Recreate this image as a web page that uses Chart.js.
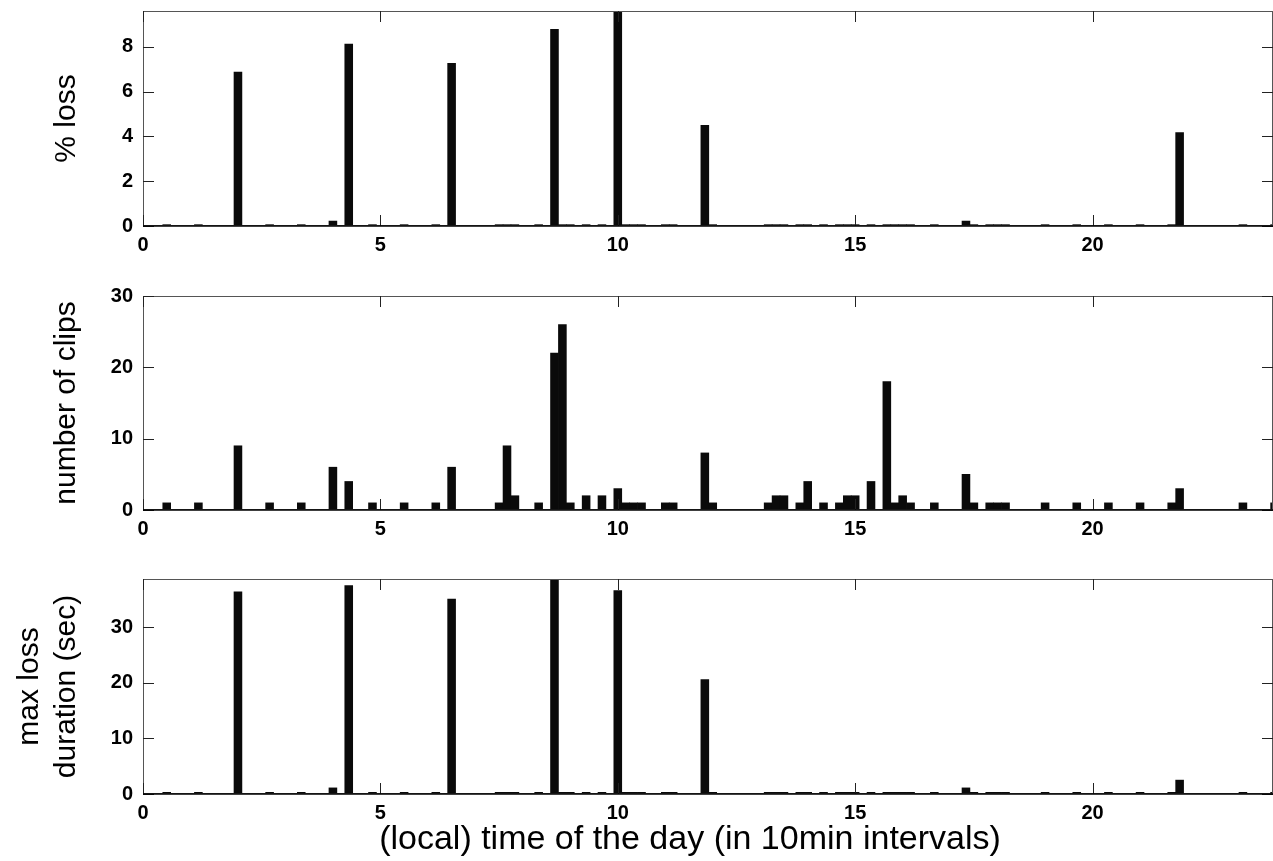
<!DOCTYPE html>
<html>
<head>
<meta charset="utf-8">
<title>Loss, clips and loss duration over the day</title>
<script src="https://cdn.jsdelivr.net/npm/chart.js@4.4.1/dist/chart.umd.min.js"></script>
<style>
  html, body { margin: 0; padding: 0; background: #fff; overflow: hidden; }
  canvas { position: absolute; left: 0; }
</style>
</head>
<body>
<canvas id="lossChart" width="1273" height="266" style="top:0px"></canvas>
<canvas id="clipChart" width="1273" height="268" style="top:282px"></canvas>
<canvas id="durChart" width="1273" height="296" style="top:565px"></canvas>
<script>
// 10-minute interval index (0..143) of every interval that had clips
var slots = [3, 7, 12, 16, 20, 24, 26, 29, 33, 37,
             39, 45, 46, 47, 50, 52, 53, 54, 56, 58,
             60, 61, 62, 63, 66, 67, 71, 72, 79, 80,
             81, 83, 84, 86, 88, 89, 90, 92, 94, 95,
             96, 97, 100, 104, 105, 107, 108, 109, 114, 118,
             122, 126, 130, 131, 139, 143];

var lossPct = [0.06, 0.06, 6.87, 0.06, 0.06, 0.22, 8.12, 0.06, 0.06, 0.06,
               7.26, 0.06, 0.06, 0.06, 0.06, 8.78, 0.06, 0.06, 0.06, 0.06,
               9.6, 0.06, 0.06, 0.06, 0.06, 0.06, 4.5, 0.06, 0.06, 0.06,
               0.06, 0.06, 0.06, 0.06, 0.06, 0.06, 0.06, 0.06, 0.06, 0.06,
               0.06, 0.06, 0.06, 0.22, 0.06, 0.06, 0.06, 0.06, 0.06, 0.06,
               0.06, 0.06, 0.06, 4.17, 0.06, 0.06];

var clipCount = [1, 1, 9, 1, 1, 6, 4, 1, 1, 1,
                 6, 1, 9, 2, 1, 22, 26, 1, 2, 2,
                 3, 1, 1, 1, 1, 1, 8, 1, 1, 2,
                 2, 1, 4, 1, 1, 2, 2, 4, 18, 1,
                 2, 1, 1, 5, 1, 1, 1, 1, 1, 1,
                 1, 1, 1, 3, 1, 1];

var maxLossSec = [0.3, 0.3, 36.4, 0.3, 0.3, 1.1, 37.5, 0.3, 0.3, 0.3,
                  35.1, 0.3, 0.3, 0.3, 0.3, 38.7, 0.3, 0.3, 0.3, 0.3,
                  36.6, 0.3, 0.3, 0.3, 0.3, 0.3, 20.6, 0.3, 0.3, 0.3,
                  0.3, 0.3, 0.3, 0.3, 0.3, 0.3, 0.3, 0.3, 0.3, 0.3,
                  0.3, 0.3, 0.3, 1.1, 0.3, 0.3, 0.3, 0.3, 0.3, 0.3,
                  0.3, 0.3, 0.3, 2.5, 0.3, 0.3];

var hourTicks = [0, 5, 10, 15, 20];
var lossTicks = [0, 2, 4, 6, 8];
var clipTicks = [0, 10, 20, 30];
var durTicks = [0, 10, 20, 30];

var hourMax = 23.8;
var lossMax = 9.6;
var clipMax = 30;
var durMax = 38.7;

var FONT = "'Liberation Sans', Arial, Helvetica, sans-serif";
var TICK_LEN = 11;

// matlab-like box: full frame, ticks pointing inwards on all four sides
var boxAxes = {
    id: 'boxAxes',
    afterDatasetsDraw: function(chart) {
        var ctx = chart.ctx;
        var a = chart.chartArea;
        var x = chart.scales.x;
        var y = chart.scales.y;
        ctx.save();
        ctx.lineWidth = 1;
        ctx.strokeStyle = '#555';
        ctx.strokeRect(a.left + 0.5, a.top + 0.5, a.right - a.left - 1, a.bottom - a.top - 1);

        ctx.strokeStyle = '#222';
        ctx.beginPath();
        x.ticks.forEach(function(t) {
            var px = Math.round(x.getPixelForValue(t.value)) + 0.5;
            ctx.moveTo(px, a.bottom);
            ctx.lineTo(px, a.bottom - TICK_LEN);
            ctx.moveTo(px, a.top);
            ctx.lineTo(px, a.top + TICK_LEN);
        });
        y.ticks.forEach(function(t) {
            var py = Math.round(y.getPixelForValue(t.value)) + 0.5;
            ctx.moveTo(a.left, py);
            ctx.lineTo(a.left + TICK_LEN, py);
            ctx.moveTo(a.right, py);
            ctx.lineTo(a.right - TICK_LEN, py);
        });
        ctx.stroke();

        // bar baseline
        ctx.strokeStyle = '#000';
        ctx.lineWidth = 1.5;
        ctx.beginPath();
        var py0 = y.getPixelForValue(0);
        ctx.moveTo(a.left, py0);
        ctx.lineTo(a.right, py0);
        ctx.stroke();
        ctx.restore();
    }
};

// x axis caption under the lowest panel
var xCaption = {
    id: 'xCaption',
    afterDraw: function(chart, args, opts) {
        if (!opts.text) return;
        var ctx = chart.ctx;
        var a = chart.chartArea;
        ctx.save();
        ctx.font = opts.size + 'px ' + FONT;
        ctx.fillStyle = '#000';
        ctx.textAlign = 'center';
        ctx.textBaseline = 'middle';
        ctx.fillText(opts.text, (a.left + a.right) / 2 + opts.shift, a.bottom + opts.gap);
        ctx.restore();
    }
};

function toPoints(values) {
    return slots.map(function(s, i) {
        return { x: s / 6, y: values[i] };
    });
}

function makePanel(canvasId, values, yMax, yTicks, cfg) {
    var twoLines = Array.isArray(cfg.text);
    var tickFont = { family: FONT, size: 20, weight: 'bold' };

    return new Chart(document.getElementById(canvasId), {
        type: 'bar',
        data: {
            datasets: [{
                data: toPoints(values),
                backgroundColor: '#0a0a0a',
                borderWidth: 0,
                barPercentage: 1,
                categoryPercentage: 1
            }]
        },
        options: {
            responsive: false,
            animation: false,
            devicePixelRatio: 1,
            layout: { padding: { top: cfg.padTop, right: 0, bottom: cfg.padBottom || 0, left: 0 } },
            plugins: {
                legend: { display: false },
                tooltip: { enabled: false },
                xCaption: { text: cfg.xTitle || '', size: 34, shift: -18, gap: 46 }
            },
            scales: {
                x: {
                    type: 'linear',
                    offset: false,
                    min: 0,
                    max: hourMax,
                    grid: { display: false, drawTicks: false },
                    border: { display: false },
                    afterBuildTicks: function(scale) {
                        scale.ticks = hourTicks.map(function(v) { return { value: v }; });
                    },
                    afterFit: function(scale) {
                        scale.height = 40;
                        scale.paddingLeft = 0;
                        scale.paddingRight = 0;
                    },
                    ticks: {
                        color: '#000',
                        padding: 7,
                        maxRotation: 0,
                        autoSkip: false,
                        font: tickFont
                    }
                },
                y: {
                    min: 0,
                    max: yMax,
                    grid: { display: false, drawTicks: false },
                    border: { display: false },
                    afterBuildTicks: function(scale) {
                        scale.ticks = yTicks.map(function(v) { return { value: v }; });
                    },
                    afterFit: function(scale) {
                        scale.width = 143;
                        scale.paddingTop = 0;
                        scale.paddingBottom = 0;
                    },
                    ticks: {
                        color: '#000',
                        padding: 10,
                        font: tickFont
                    },
                    title: {
                        display: true,
                        text: cfg.text,
                        color: '#000',
                        padding: { top: twoLines ? 11.5 : 49, bottom: 0 },
                        font: { family: FONT, size: 30, lineHeight: twoLines ? 1.23 : 1.2 }
                    }
                }
            }
        },
        plugins: [boxAxes, xCaption]
    });
}

makePanel('lossChart', lossPct, lossMax, lossTicks,
    { text: '% loss', padTop: 11 });
makePanel('clipChart', clipCount, clipMax, clipTicks,
    { text: 'number of clips', padTop: 14 });
makePanel('durChart', maxLossSec, durMax, durTicks,
    { text: ['max loss', 'duration (sec)'], padTop: 14, padBottom: 27,
      xTitle: '(local) time of the day (in 10min intervals)' });
</script>
</body>
</html>
